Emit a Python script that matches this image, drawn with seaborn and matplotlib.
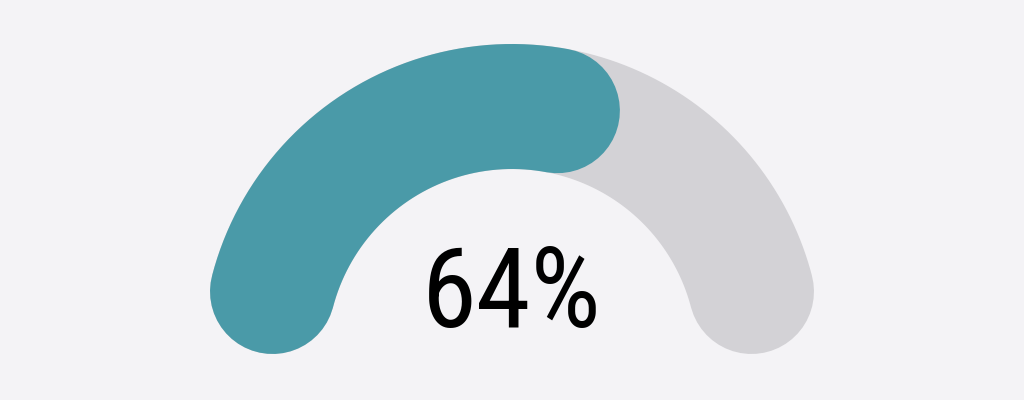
import numpy as np
import pandas as pd
import matplotlib.pyplot as plt
import seaborn as sns

# gauge data
values = [64]
gauge_max = [100]
value_labels = [f"{v}%" for v in values]

BG = '#f4f3f6'
TRACK = '#d3d2d6'
FILL = '#4a9aa8'

sns.set_style('white', rc={'figure.facecolor': BG, 'axes.facecolor': BG})
plt.rcParams['font.family'] = ['Roboto Condensed', 'DejaVu Sans']

# ring geometry: midline radius = 1, scale ~247.5 px per unit
px = 247.5
ring_px = 125                       # ring thickness in pixels
lw_pt = ring_px * 72 / 100          # linewidth in points at dpi 100
half_w = ring_px / 2 / px
inset = np.degrees(np.arcsin(half_w))   # keep round caps inside the angle range


def arc_frame(a0, a1, n=300):
    theta = np.radians(np.linspace(a0, a1, n))
    return pd.DataFrame({'x': np.cos(theta), 'y': np.sin(theta)})


fig = plt.figure(figsize=(10.24, 4), dpi=100)
ax = fig.add_axes([0, 0, 1, 1])

track = arc_frame(180 - inset, inset)
end_angle = 180 - 180 * values[0] / gauge_max[0]
fill = arc_frame(180 - inset, end_angle + inset)

sns.lineplot(data=track, x='x', y='y', ax=ax, sort=False, estimator=None,
             color=TRACK, linewidth=lw_pt, solid_capstyle='round')
sns.lineplot(data=fill, x='x', y='y', ax=ax, sort=False, estimator=None,
             color=FILL, linewidth=lw_pt, solid_capstyle='round')

ax.text(0, 27 / px, value_labels[0], ha='center', va='baseline',
        fontsize=80, color='black')

ax.set_xlim(-512 / px, 512 / px)
ax.set_ylim(-46 / px, 354 / px)
ax.set_axis_off()

fig.savefig('out.png', dpi=100, facecolor=BG)
